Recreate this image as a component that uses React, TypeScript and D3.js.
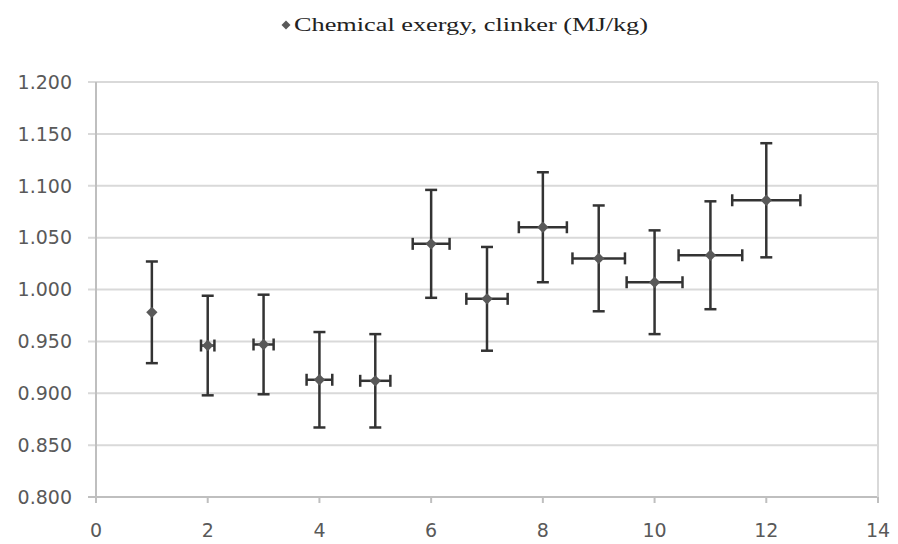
import * as d3 from "d3";
import React from "react";

// values
const xs = [1, 2, 3, 4, 5, 6, 7, 8, 9, 10, 11, 12];
const ys = [0.978, 0.946, 0.947, 0.913, 0.912, 1.044, 0.991, 1.060, 1.030, 1.007, 1.033, 1.086];
const yErr = [0.049, 0.048, 0.048, 0.046, 0.045, 0.052, 0.050, 0.053, 0.051, 0.050, 0.052, 0.055];
const xErr = [0, 0.12, 0.18, 0.23, 0.27, 0.33, 0.37, 0.43, 0.47, 0.5, 0.57, 0.61];
const yTicks = [0.8, 0.85, 0.9, 0.95, 1.0, 1.05, 1.1, 1.15, 1.2];
const xTicks = [0, 2, 4, 6, 8, 10, 12, 14];
const seriesName = "Chemical exergy, clinker (MJ/kg)";

const W = 898;
const H = 544;
const left = 96, right = 878, top = 82, bottom = 497;

const App = () => {
  const x = d3.scaleLinear([0, 14], [left, right]);
  const y = d3.scaleLinear([0.8, 1.2], [bottom, top]);
  // excel-style diamond: a square turned 45deg
  const diamond = d3.symbol(d3.symbolSquare, 64)();
  const axisCol = "#bfbfbf";
  const gridCol = "#d9d9d9";
  const textCol = "#595959";
  const errCol = "#333333";
  const cap = 6;

  return (
    <svg width={W} height={H} style={{ position: "absolute", left: 0, top: 0 }}>
      <rect width={W} height={H} fill="white" />
      {/* legend */}
      <path d={diamond} transform="translate(286,25) rotate(45) scale(0.8)" fill={textCol} />
      <text x={294} y={31} fontFamily="Liberation Serif" fontSize={19} fill="#222"
        textLength={354} lengthAdjust="spacingAndGlyphs">{seriesName}</text>

      {/* grid */}
      {yTicks.map((t) => (
        <line key={t} x1={88} x2={right} y1={y(t)} y2={y(t)} stroke={t === 0.8 ? axisCol : gridCol} strokeWidth={2} />
      ))}
      <line x1={left} x2={left} y1={top} y2={bottom + 1} stroke={axisCol} strokeWidth={2} />
      <line x1={right} x2={right} y1={top} y2={bottom} stroke={gridCol} strokeWidth={2} />
      {xTicks.map((t) => (
        <line key={t} x1={x(t)} x2={x(t)} y1={bottom} y2={bottom + 6} stroke={axisCol} strokeWidth={2} />
      ))}

      {/* tick labels */}
      {yTicks.map((t) => (
        <text key={t} x={72} y={y(t)} dy="0.36em" textAnchor="end" fontFamily="DejaVu Sans" fontSize={19} fill={textCol}>
          {d3.format(".3f")(t)}
        </text>
      ))}
      {xTicks.map((t) => (
        <text key={t} x={x(t)} y={537} textAnchor="middle" fontFamily="DejaVu Sans" fontSize={19} fill={textCol}>
          {t}
        </text>
      ))}

      {/* error bars */}
      <g stroke={errCol} strokeWidth={2.5}>
        {xs.map((v, i) => (
          <g key={i}>
            <line x1={x(v)} x2={x(v)} y1={y(ys[i] + yErr[i])} y2={y(ys[i] - yErr[i])} />
            <line x1={x(v) - cap} x2={x(v) + cap} y1={y(ys[i] + yErr[i])} y2={y(ys[i] + yErr[i])} />
            <line x1={x(v) - cap} x2={x(v) + cap} y1={y(ys[i] - yErr[i])} y2={y(ys[i] - yErr[i])} />
            {xErr[i] > 0 && (
              <>
                <line x1={x(v - xErr[i])} x2={x(v + xErr[i])} y1={y(ys[i])} y2={y(ys[i])} />
                <line x1={x(v - xErr[i])} x2={x(v - xErr[i])} y1={y(ys[i]) - cap} y2={y(ys[i]) + cap} />
                <line x1={x(v + xErr[i])} x2={x(v + xErr[i])} y1={y(ys[i]) - cap} y2={y(ys[i]) + cap} />
              </>
            )}
          </g>
        ))}
      </g>

      {/* markers */}
      {xs.map((v, i) => (
        <path key={i} d={diamond} transform={`translate(${x(v)},${y(ys[i])}) rotate(45)`} fill={textCol} />
      ))}
    </svg>
  );
};

export default App;
